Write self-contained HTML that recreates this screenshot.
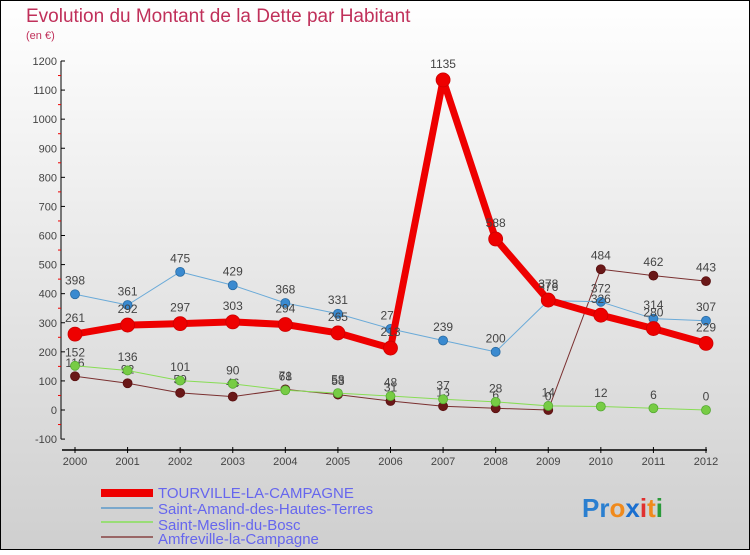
<!DOCTYPE html>
<html><head><meta charset="utf-8"><style>
body{margin:0;width:750px;height:550px;overflow:hidden;font-family:"Liberation Sans",sans-serif}
svg text{font-family:"Liberation Sans",sans-serif}
</style></head><body>
<svg id="c" width="750" height="550" xmlns="http://www.w3.org/2000/svg">
<defs><linearGradient id="bg" x1="0" y1="0" x2="0" y2="1"><stop offset="0" stop-color="#ffffff"/><stop offset="1" stop-color="#cfcfcf"/></linearGradient></defs>
<rect x="0.5" y="0.5" width="749" height="549" fill="url(#bg)" stroke="#000"/>
<text x="26" y="22" font-size="19" fill="#c0305a">Evolution du Montant de la Dette par Habitant</text>
<text x="26" y="39" font-size="11" fill="#c0305a">(en €)</text>
<g id="axes"></g><g id="series"></g>
<g>
<rect x="101" y="489" width="52" height="8" fill="#e00"/>
<text x="158" y="498" font-size="15" fill="#6666ee">TOURVILLE-LA-CAMPAGNE</text>
<rect x="101" y="507" width="52" height="2" fill="#7aa8cc"/>
<text x="158" y="514" font-size="15" fill="#6666ee">Saint-Amand-des-Hautes-Terres</text>
<rect x="101" y="521" width="52" height="2" fill="#99dd77"/>
<text x="158" y="530" font-size="15" fill="#6666ee">Saint-Meslin-du-Bosc</text>
<rect x="101" y="536" width="52" height="2" fill="#996666"/>
<text x="158" y="544" font-size="15" fill="#6666ee">Amfreville-la-Campagne</text>
</g>
<text x="582" y="517" font-size="26" font-weight="bold"><tspan fill="#2a7fd0">Pr</tspan><tspan fill="#f08a1c">o</tspan><tspan fill="#1a6fd0">x</tspan><tspan fill="#e03030">i</tspan><tspan fill="#f08a1c">t</tspan><tspan fill="#2a9a3a">i</tspan></text>
</svg>
<script>
const years=[2000,2001,2002,2003,2004,2005,2006,2007,2008,2009,2010,2011,2012];
const yTicks=[-100,0,100,200,300,400,500,600,700,800,900,1000,1100,1200];
const tourville=[261,292,297,303,294,265,213,1135,588,378,326,280,229];
const saintAmand=[398,361,475,429,368,331,279,239,200,376,372,314,307];
const saintMeslin=[152,136,101,90,68,58,48,37,28,14,12,6,0];
const amfreville=[116,92,59,46,71,53,31,13,6,0,484,462,443];
const NS='http://www.w3.org/2000/svg';
const xS=i=>75+i*(706-75)/12;
const yS=v=>410-v*(410-61)/1200;
function mk(t,a,p){const e=document.createElementNS(NS,t);for(const k in a)e.setAttribute(k,a[k]);p.appendChild(e);return e;}
const ax=document.getElementById('axes');
let l=mk('line',{x1:61,y1:yS(1200),x2:61,y2:yS(-100),stroke:'#000'},ax);


l=mk('line',{x1:62,y1:450,x2:707,y2:450,stroke:'#000','stroke-width':1.5},ax);


yTicks.forEach((v,i)=>{
 mk('line',{x1:61,y1:yS(v),x2:65,y2:yS(v),stroke:'#000'},ax);
 if(i<yTicks.length-1)mk('line',{x1:58,y1:yS(v+50),x2:61,y2:yS(v+50),stroke:'#e00'},ax);
 const t=mk('text',{x:57,y:yS(v)+4,'font-size':11,'text-anchor':'end',fill:'#444'},ax);
 t.textContent=v;
 
 
});
years.forEach((y,i)=>{
 mk('line',{x1:xS(i),y1:447,x2:xS(i),y2:453,stroke:'#000'},ax);
 const t=mk('text',{x:xS(i),y:465,'font-size':11,'text-anchor':'middle',fill:'#444'},ax);
 t.textContent=y;
 
 
});
const sg=document.getElementById('series');
function draw(name,data,color,w,r,dot,dotStroke){
 const g=mk('g',{},sg);
 
 
 const p=mk('polyline',{points:data.map((v,i)=>xS(i)+','+yS(v)).join(' '),fill:'none',stroke:color,'stroke-width':w,'stroke-linejoin':'round'},g);
 
 
 data.forEach((v,i)=>{
  const c=mk('circle',{cx:xS(i),cy:yS(v),r:r,fill:dot,stroke:dotStroke,'stroke-width':0.8},g);
  
  
  const t=mk('text',{x:xS(i),y:yS(v)-(r+5),'font-size':12,'text-anchor':'middle',fill:'#444'},g);
  t.textContent=v;
  
  
 });
}
draw('amfreville',amfreville,'#7a3030',1,4.5,'#6a1818','#5a1010');
draw('saint-meslin',saintMeslin,'#88dd55',1,4.5,'#77cc44','#55aa33');
draw('saint-amand',saintAmand,'#6aaad8',1,4.5,'#3a8ad0','#2a6aa0');
draw('tourville',tourville,'#ee0000',7,7,'#ee0000','#cc0000');
</script>
</body></html>
